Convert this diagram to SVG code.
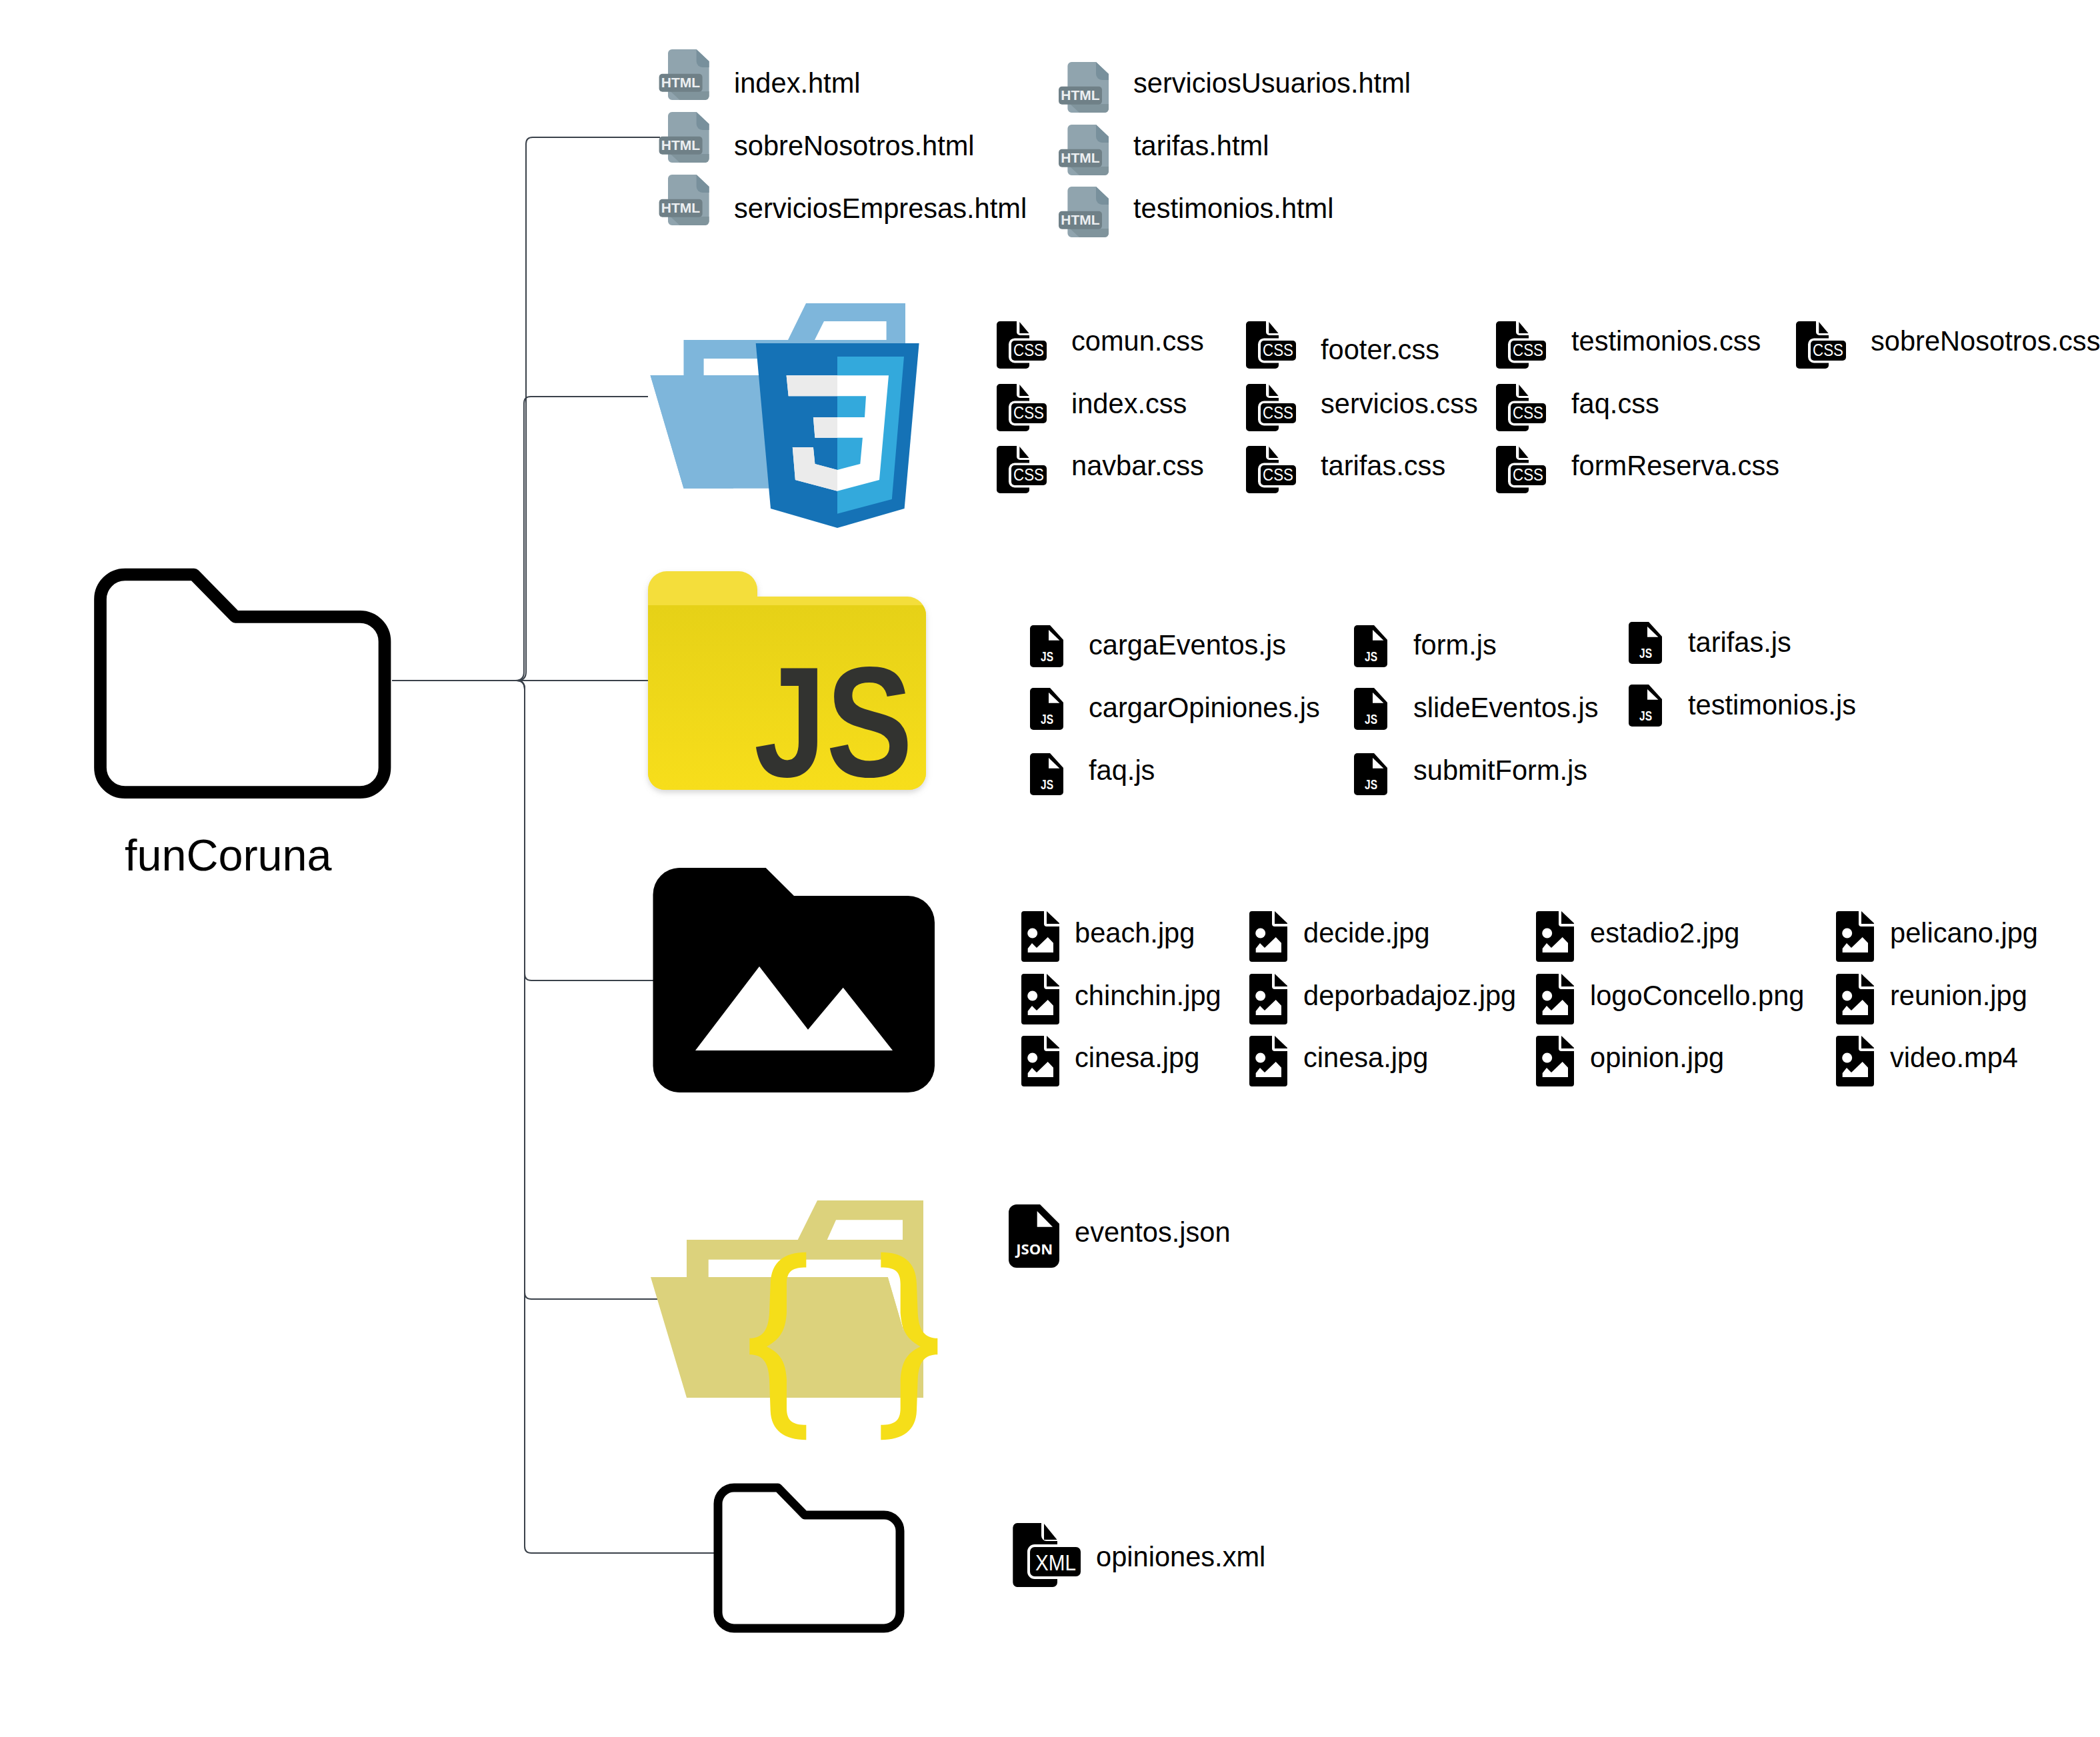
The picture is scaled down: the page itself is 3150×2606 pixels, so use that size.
<svg xmlns="http://www.w3.org/2000/svg" xmlns:xlink="http://www.w3.org/1999/xlink" width="3150" height="2606" viewBox="0 0 3150 2606">
<style>
text{font-family:"Liberation Sans",Arial,sans-serif;fill:#000}
.l{font-size:41.6px}
.h{font-size:21px;font-weight:700;fill:#ECEFF1;text-anchor:middle}
.c{font-size:26px;fill:#fff}
.j{font-size:20px;font-weight:700;fill:#fff}
.w{fill:#fff}
.k{fill:#000}
#connectors path{fill:none;stroke:#3a414a;stroke-width:2}
</style>
<defs>
<linearGradient id="jsg" x1="0" y1="0" x2="0" y2="1"><stop offset="0" stop-color="#E6D117"/><stop offset="1" stop-color="#F7DE1B"/></linearGradient>
<filter id="soft" x="-5%" y="-5%" width="110%" height="110%"><feDropShadow dx="0" dy="4" stdDeviation="4" flood-color="#8a8a8a" flood-opacity=".35"/></filter>
<g id="ih">
<path d="M13.4 6a6 6 0 0 1 6-6H56L75 18V70a6 6 0 0 1-6 6H19.4a6 6 0 0 1-6-6Z" fill="#90A4AE"/>
<path d="M56 0L75 18V27H65a9 9 0 0 1-9-9Z" fill="#78909C"/>
<path d="M17 63L75 63V70a6 6 0 0 1-6 6H31Z" fill="#80949C"/>
<rect x="0" y="36.7" width="65" height="27" rx="5" fill="#6F8087"/>
</g>
<g id="ic">
<path d="M0 5a5 5 0 0 1 5-5H30V16a5 5 0 0 0 5 5H49V66a5 5 0 0 1-5 5H5a5 5 0 0 1-5-5Z" class="k"/>
<path d="M34.300 1L48.500 18H34.300Z" class="k"/>
<rect x="18" y="25.500" width="60" height="37" rx="9" class="w"/>
<rect x="22" y="29" width="53" height="30" rx="5" class="k"/>
</g>
<g id="ij">
<path d="M0 5a5 5 0 0 1 5-5H30L50 22V58a5 5 0 0 1-5 5H5a5 5 0 0 1-5-5Z" class="k"/>
<path d="M28 7V22.700H44.400Z" class="w"/>
</g>
<g id="ii">
<path d="M0 4a4 4 0 0 1 4-4H34V19a4 4 0 0 0 4 4H57V72a4 4 0 0 1-4 4H4a4 4 0 0 1-4-4Z" class="k"/>
<path d="M38 0L57 18V19H38Z" class="k"/>
<circle cx="16.700" cy="33" r="7.500" class="w"/>
<path d="M9.700 62V56L16 48L23 55L39.700 39L48 47.700V62Z" class="w"/>
</g>
</defs>
<rect width="3150" height="2606" fill="#fff"/>

<g id="connectors">
<path d="M588 1021H776Q789 1021 789 1008V216Q789 206 799 206H990"/>
<path d="M588 1021H773Q786 1021 786 1008V605Q786 595 796 595H972"/>
<path d="M588 1021H972"/>
<path d="M588 1021H775Q787 1021 787 1034V1461Q787 1471 797 1471H980"/>
<path d="M588 1021H775Q787 1021 787 1034V1939Q787 1949 797 1949H986"/>
<path d="M588 1021H775Q787 1021 787 1034V2320Q787 2330 797 2330H1072"/>
</g>

<g id="root">
<path d="M150.500 899a37 37 0 0 1 37-37H291L353 925.300H540a37 37 0 0 1 37 37V1151.700a37 37 0 0 1-37 37H187.500a37 37 0 0 1-37-37Z" fill="none" stroke="#000" stroke-width="18.700" stroke-linejoin="round"/>
<text x="187" y="1306" font-size="66.500">funCoruna</text>
</g>

<g id="html-files">
<use href="#ih" x="988.600" y="74"/><text class="h" x="1021" y="131">HTML</text><text class="l" x="1101" y="139">index.html</text>
<use href="#ih" x="988.600" y="168"/><text class="h" x="1021" y="225">HTML</text><text class="l" x="1101" y="233">sobreNosotros.html</text>
<use href="#ih" x="988.600" y="262"/><text class="h" x="1021" y="319">HTML</text><text class="l" x="1101" y="327">serviciosEmpresas.html</text>
<use href="#ih" x="1588" y="93"/><text class="h" x="1620.500" y="150">HTML</text><text class="l" x="1700" y="139">serviciosUsuarios.html</text>
<use href="#ih" x="1588" y="187"/><text class="h" x="1620.500" y="244">HTML</text><text class="l" x="1700" y="233">tarifas.html</text>
<use href="#ih" x="1588" y="280"/><text class="h" x="1620.500" y="337">HTML</text><text class="l" x="1700" y="327">testimonios.html</text>
</g>

<g id="css-folder">
<path fill-rule="evenodd" fill="#7EB6DB" d="M975.500 563H1025.500V510H1182L1209 455H1358V600H1100V732.700H1025.500ZM1055.600 538V563H1140V538ZM1222 510H1329.600V482H1236Z"/>
<path fill="#7EB6DB" d="M975.500 563H1160V732.700H1025.500Z"/>
<path fill="#1572B6" d="M1133.700 515H1378.600L1356.600 763L1256 792L1156 763Z"/>
<path fill="#33A9DC" d="M1256 535H1356L1337.800 749L1256 770.700Z"/>
<path fill="#fff" d="M1179.600 563.300H1333L1319 720L1256 736.700L1192.900 720L1188.800 671H1219.900L1222.400 696L1256 705L1290.300 696L1293.900 656.700H1222.400L1219.900 626H1297L1299 594.300H1182.700Z"/>
<path fill="#EBEBEB" d="M1179.600 563.300H1256V594.300H1182.700ZM1219.900 626H1256V656.700H1222.400ZM1188.800 671H1219.900L1222.400 696L1256 705V736.700L1192.900 720Z"/>
</g>
<g id="css-files">
<use href="#ic" x="1495" y="482"/><text class="c" x="1520" y="534" textLength="46" lengthAdjust="spacingAndGlyphs">CSS</text><text class="l" x="1607" y="526">comun.css</text>
<use href="#ic" x="1495" y="576"/><text class="c" x="1520" y="628" textLength="46" lengthAdjust="spacingAndGlyphs">CSS</text><text class="l" x="1607" y="620">index.css</text>
<use href="#ic" x="1495" y="669"/><text class="c" x="1520" y="721" textLength="46" lengthAdjust="spacingAndGlyphs">CSS</text><text class="l" x="1607" y="713">navbar.css</text>
<use href="#ic" x="1869" y="482"/><text class="c" x="1894" y="534" textLength="46" lengthAdjust="spacingAndGlyphs">CSS</text><text class="l" x="1981" y="539">footer.css</text>
<use href="#ic" x="1869" y="576"/><text class="c" x="1894" y="628" textLength="46" lengthAdjust="spacingAndGlyphs">CSS</text><text class="l" x="1981" y="620">servicios.css</text>
<use href="#ic" x="1869" y="669"/><text class="c" x="1894" y="721" textLength="46" lengthAdjust="spacingAndGlyphs">CSS</text><text class="l" x="1981" y="713">tarifas.css</text>
<use href="#ic" x="2244" y="482"/><text class="c" x="2269" y="534" textLength="46" lengthAdjust="spacingAndGlyphs">CSS</text><text class="l" x="2357" y="526">testimonios.css</text>
<use href="#ic" x="2244" y="576"/><text class="c" x="2269" y="628" textLength="46" lengthAdjust="spacingAndGlyphs">CSS</text><text class="l" x="2357" y="620">faq.css</text>
<use href="#ic" x="2244" y="669"/><text class="c" x="2269" y="721" textLength="46" lengthAdjust="spacingAndGlyphs">CSS</text><text class="l" x="2357" y="713">formReserva.css</text>
<use href="#ic" x="2694" y="482"/><text class="c" x="2719" y="534" textLength="46" lengthAdjust="spacingAndGlyphs">CSS</text><text class="l" x="2806" y="526">sobreNosotros.css</text>
</g>

<g id="js-folder">
<path filter="url(#soft)" fill="#F4DE3A" d="M972 885a28 28 0 0 1 28-28H1108a28 28 0 0 1 28 28V895H1361a28 28 0 0 1 28 28V1160a25 25 0 0 1-25 25H997a25 25 0 0 1-25-25Z"/>
<path fill="url(#jsg)" d="M972 908H1384Q1389 914 1389 923V1160a25 25 0 0 1-25 25H997a25 25 0 0 1-25-25Z"/>
<text x="1131" y="1165" font-size="236" font-weight="700" style="fill:#323330" textLength="238" lengthAdjust="spacingAndGlyphs">JS</text>
</g>
<g id="js-files">
<use href="#ij" x="1545" y="938"/><text class="j" x="1561" y="992" textLength="19" lengthAdjust="spacingAndGlyphs">JS</text><text class="l" x="1633" y="982">cargaEventos.js</text>
<use href="#ij" x="1545" y="1032"/><text class="j" x="1561" y="1086" textLength="19" lengthAdjust="spacingAndGlyphs">JS</text><text class="l" x="1633" y="1076">cargarOpiniones.js</text>
<use href="#ij" x="1545" y="1130"/><text class="j" x="1561" y="1184" textLength="19" lengthAdjust="spacingAndGlyphs">JS</text><text class="l" x="1633" y="1170">faq.js</text>
<use href="#ij" x="2031" y="938"/><text class="j" x="2047" y="992" textLength="19" lengthAdjust="spacingAndGlyphs">JS</text><text class="l" x="2120" y="982">form.js</text>
<use href="#ij" x="2031" y="1032"/><text class="j" x="2047" y="1086" textLength="19" lengthAdjust="spacingAndGlyphs">JS</text><text class="l" x="2120" y="1076">slideEventos.js</text>
<use href="#ij" x="2031" y="1130"/><text class="j" x="2047" y="1184" textLength="19" lengthAdjust="spacingAndGlyphs">JS</text><text class="l" x="2120" y="1170">submitForm.js</text>
<use href="#ij" x="2443" y="933"/><text class="j" x="2459" y="987" textLength="19" lengthAdjust="spacingAndGlyphs">JS</text><text class="l" x="2532" y="978">tarifas.js</text>
<use href="#ij" x="2443" y="1027"/><text class="j" x="2459" y="1081" textLength="19" lengthAdjust="spacingAndGlyphs">JS</text><text class="l" x="2532" y="1072">testimonios.js</text>
</g>

<g id="img-folder">
<path class="k" d="M979.500 1342a40 40 0 0 1 40-40H1148.700L1191 1344H1362a40 40 0 0 1 40 40V1599a40 40 0 0 1-40 40H1019.500a40 40 0 0 1-40-40Z"/>
<path class="w" d="M1043 1576L1139 1450L1212 1544.700L1264.700 1481.700L1339 1576Z"/>
</g>
<g id="img-files">
<use href="#ii" x="1532" y="1367"/><text class="l" x="1612" y="1414">beach.jpg</text>
<use href="#ii" x="1532" y="1461"/><text class="l" x="1612" y="1508">chinchin.jpg</text>
<use href="#ii" x="1532" y="1554"/><text class="l" x="1612" y="1601">cinesa.jpg</text>
<use href="#ii" x="1874" y="1367"/><text class="l" x="1955" y="1414">decide.jpg</text>
<use href="#ii" x="1874" y="1461"/><text class="l" x="1955" y="1508">deporbadajoz.jpg</text>
<use href="#ii" x="1874" y="1554"/><text class="l" x="1955" y="1601">cinesa.jpg</text>
<use href="#ii" x="2304" y="1367"/><text class="l" x="2385" y="1414">estadio2.jpg</text>
<use href="#ii" x="2304" y="1461"/><text class="l" x="2385" y="1508">logoConcello.png</text>
<use href="#ii" x="2304" y="1554"/><text class="l" x="2385" y="1601">opinion.jpg</text>
<use href="#ii" x="2754" y="1367"/><text class="l" x="2835" y="1414">pelicano.jpg</text>
<use href="#ii" x="2754" y="1461"/><text class="l" x="2835" y="1508">reunion.jpg</text>
<use href="#ii" x="2754" y="1554"/><text class="l" x="2835" y="1601">video.mp4</text>
</g>

<g id="json-folder">
<path fill="#DCD27C" fill-rule="evenodd" d="M1030 1860H1196.700L1226 1801H1385V2097H1030ZM1062.700 1889.700V1916H1331.700L1355 1995.700H1354V1889.700ZM1240.700 1860H1354V1830.300H1254Z"/>
<path fill="#DCD27C" d="M976 1916H1331.700L1355 1995.700L1385 2097H1030Z"/>
<g transform="translate(950 1769.500) scale(.33333)" fill="#F5DE19">
<path id="brace" d="M778 328C680 328 620 370 617 470L612 600C608 680 580 715 523 715V788C580 788 608 820 612 900L617 1040C620 1130 680 1172 778 1172V1105C720 1105 690 1090 690 1030V900C685 820 660 780 600 752C660 720 685 680 690 600V470C690 410 720 396 778 396Z"/>
<path transform="translate(1892 0) scale(-1 1)" d="M778 328C680 328 620 370 617 470L612 600C608 680 580 715 523 715V788C580 788 608 820 612 900L617 1040C620 1130 680 1172 778 1172V1105C720 1105 690 1090 690 1030V900C685 820 660 780 600 752C660 720 685 680 690 600V470C690 410 720 396 778 396Z"/>
</g>
</g>
<g id="json-file">
<path class="k" d="M1513 1819a12 12 0 0 1 12-12H1560L1589 1836V1890a12 12 0 0 1-12 12H1525a12 12 0 0 1-12-12Z"/>
<path class="w" d="M1555.700 1817V1840.700H1579Z"/>
<text x="1524.300" y="1882" font-size="21" font-weight="700" style="font-family:'Open Sans',sans-serif;fill:#fff" textLength="55" lengthAdjust="spacingAndGlyphs">JSON</text>
<text class="l" x="1612" y="1863">eventos.json</text>
</g>

<g id="xml-folder">
<path d="M1077 2256a24 24 0 0 1 24-24H1167L1207 2273H1326a24 24 0 0 1 24 24V2419a24 24 0 0 1-24 24H1101a24 24 0 0 1-24-24Z" fill="none" stroke="#000" stroke-width="13" stroke-linejoin="round"/>
</g>
<g id="xml-file">
<path class="k" d="M1519.300 2292a7 7 0 0 1 7-7H1562V2304a8 8 0 0 0 8 8H1586V2374a7 7 0 0 1-7 7H1526.300a7 7 0 0 1-7-7Z"/>
<path class="k" d="M1566 2286L1585.500 2310H1566Z"/>
<rect x="1541" y="2317" width="80" height="52" rx="11" class="w"/>
<rect x="1545" y="2321" width="76" height="44" rx="7" class="k"/>
<text x="1553" y="2356" font-size="34" style="fill:#fff" textLength="61" lengthAdjust="spacingAndGlyphs">XML</text>
<text class="l" x="1644" y="2350">opiniones.xml</text>
</g>
</svg>
